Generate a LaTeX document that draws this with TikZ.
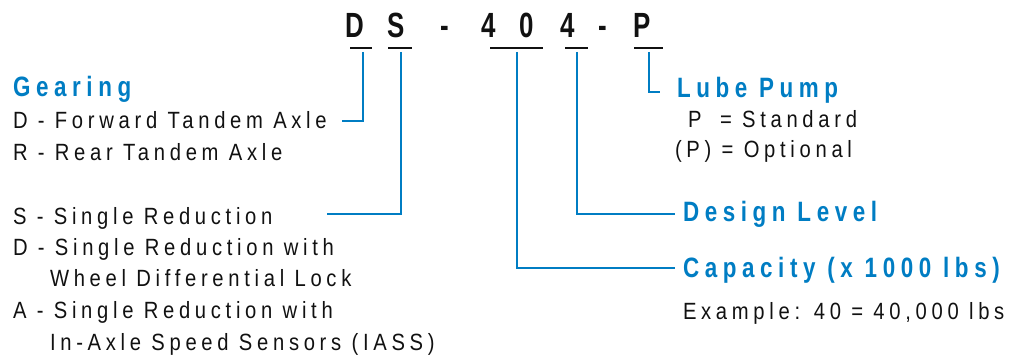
\documentclass[tikz,border=0pt]{standalone}
\usepackage{fontspec}
\setmainfont{Liberation Sans}[FakeStretch=0.86, LetterSpace=20]
\newfontfamily\headfont{Liberation Sans}[FakeStretch=0.8, LetterSpace=20]
\newfontfamily\codefont{Liberation Sans}[FakeStretch=0.74]
\definecolor{blu}{RGB}{0,125,195}
\definecolor{ink}{RGB}{17,17,17}
\tikzset{
  txt/.style={anchor=base west, inner sep=0pt, outer sep=0pt, text=ink, font=\fontsize{23.5}{23.5}\selectfont},
  head/.style={anchor=base west, inner sep=0pt, outer sep=0pt, text=blu, font=\headfont\bfseries\fontsize{28}{28}\selectfont},
  codechar/.style={anchor=base, inner sep=0pt, outer sep=0pt, text=ink, font=\codefont\bfseries\fontsize{35}{35}\selectfont},
  conn/.style={draw=blu, line width=2.6pt},
  uline/.style={draw=ink, line width=2.6pt}
}
\begin{document}
\begin{tikzpicture}[x=1pt,y=-1pt]
\useasboundingbox (0,0) rectangle (1015,358);
% code
\node[codechar] (c1) at (355,37.7) {D};
\node[codechar] (c2) at (396,37.7) {S};
\node[codechar] (c3) at (445,37.7) {-};
\node[codechar] (c4) at (489,37.7) {4};
\node[codechar] (c5) at (527,37.7) {0};
\node[codechar] (c6) at (568,37.7) {4};
\node[codechar] (c7) at (602.5,37.7) {-};
\node[codechar] (c8) at (642,37.7) {P};
% underlines
\draw[uline] (350,48) -- (372,48);
\draw[uline] (388,48) -- (412,48);
\draw[uline] (490,48) -- (543,48);
\draw[uline] (565,48) -- (588,48);
\draw[uline] (634,48) -- (663,48);
% left texts
\node[head] (gear) at (13,97) {Gearing};
\node[txt] (fwd) at (13,129) {D - Forward Tandem Axle};
\node[txt] (rear) at (13,161) {R - Rear Tandem Axle};
\node[txt] (sred) at (13,225) {S - Single Reduction};
\node[txt] (dred) at (13,255.5) {D - Single Reduction with};
\node[txt] (wdl) at (50,287) {Wheel Differential Lock};
\node[txt] (ared) at (13,318.5) {A - Single Reduction with};
\node[txt] (iass) at (50,350) {In-Axle Speed Sensors (IASS)};
% right texts
\node[head] (lube) at (677,98) {Lube Pump};
\node[txt] (pstd) at (688,128) {P};
\node[txt] (pstd2) at (720,128) {= Standard};
\node[txt] (popt) at (675,158) {(P) = Optional};
\node[head] (design) at (683,222) {Design Level};
\node[head] (cap) at (683,277) {Capacity (x 1000 lbs)};
\node[txt] (ex) at (683,319) {Example: 40 = 40,000 lbs};
% connector endpoints
\coordinate (sD) at (363,52);  \coordinate (eD) at (342,121);
\coordinate (sS) at (401,52);  \coordinate (eS) at (327,214);
\coordinate (sC) at (517,52);  \coordinate (eC) at (675,268);
\coordinate (sL) at (577,52);  \coordinate (eL) at (675,214);
\coordinate (sP) at (649,52);  \coordinate (eP) at (660,92);
\draw[conn] (sD) |- (eD);
\draw[conn] (sS) |- (eS);
\draw[conn] (sC) |- (eC);
\draw[conn] (sL) |- (eL);
\draw[conn] (sP) |- (eP);
\end{tikzpicture}
\end{document}
